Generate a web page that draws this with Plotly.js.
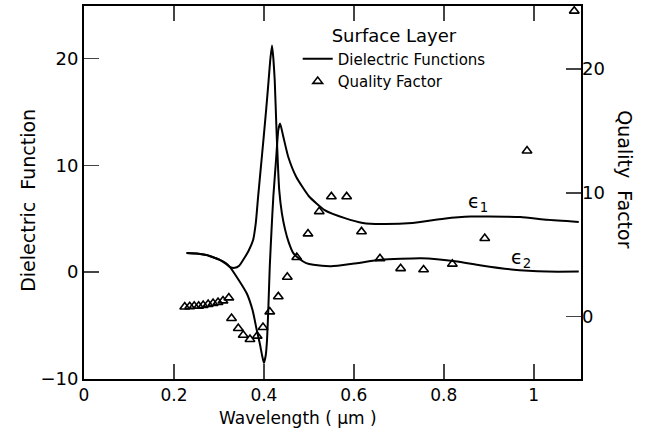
<!DOCTYPE html>
<html>
<head>
<meta charset="utf-8">
<script src="https://cdn.plot.ly/plotly-3.0.1.min.js"></script>
<style>html,body{margin:0;padding:0;background:#fff;}#chart{width:647px;height:435px;}</style>
</head>
<body>
<div id="chart"></div>
<script>
// Wavelength (um) and dielectric function values
const eps1X = [0.228,0.25,0.272,0.29,0.302,0.315,0.324,0.345,0.362,0.375,0.384,0.391,0.396,0.400,0.404,0.407,0.410,0.413,0.417,0.421,0.427,0.432,0.436,0.443,0.454,0.472,0.50,0.535,0.58,0.62,0.66,0.73,0.80,0.86,0.90,0.97,1.03,1.10];
const eps1Y = [1.8,1.75,1.6,1.35,1.15,0.85,0.5,-0.8,-2.0,-3.6,-5.4,-6.7,-7.8,-8.5,-7.8,-6.3,-3.2,0.5,4.0,7.1,10.5,13.3,13.9,12.7,10.8,8.9,7.1,5.8,5.05,4.6,4.5,4.6,5.0,5.2,5.2,5.15,4.9,4.7];
const eps2X = [0.228,0.25,0.272,0.29,0.302,0.315,0.324,0.335,0.345,0.354,0.366,0.376,0.382,0.387,0.393,0.399,0.405,0.41,0.414,0.418,0.421,0.424,0.428,0.431,0.434,0.44,0.447,0.455,0.465,0.48,0.494,0.51,0.55,0.60,0.66,0.75,0.83,0.88,0.95,1.03,1.10];
const eps2Y = [1.8,1.75,1.6,1.35,1.15,0.8,0.5,0.4,0.6,1.15,2.0,3.0,4.6,7.0,9.7,12.4,15.2,17.7,19.8,21.2,20.0,18.0,13.3,10.2,7.7,5.5,4.0,2.8,1.8,1.2,0.84,0.68,0.55,0.8,1.15,1.3,1.0,0.65,0.25,0.05,0.05];
// Quality factor (right axis)
const qX = [0.224,0.235,0.245,0.255,0.265,0.276,0.287,0.298,0.309,0.322,0.328,0.343,0.354,0.369,0.385,0.398,0.413,0.432,0.452,0.473,0.498,0.523,0.550,0.584,0.617,0.658,0.704,0.755,0.819,0.891,0.985,1.09];
const qY = [0.8,0.83,0.86,0.86,0.92,1.0,1.08,1.16,1.29,1.53,-0.13,-0.94,-1.48,-1.83,-1.56,-0.86,0.4,1.62,3.2,4.8,6.7,8.5,9.7,9.7,6.87,4.7,3.9,3.8,4.26,6.33,13.4,24.7];
// Axis ticks
const xTickVals = [0,0.2,0.4,0.6,0.8,1.0];
const xTickText = ['0','0.2','0.4','0.6','0.8','1'];
const yTickVals = [-10,0,10,20];
const y2TickVals = [0,10,20];

const FONT = 'DejaVu Sans, sans-serif';
const traces = [
  {x: eps1X, y: eps1Y, type:'scatter', mode:'lines', name:'Dielectric Functions',
   line:{color:'#000', width:2, shape:'spline', smoothing:0.5}, showlegend:true},
  {x: eps2X, y: eps2Y, type:'scatter', mode:'lines', name:'ε2',
   line:{color:'#000', width:2, shape:'spline', smoothing:0.5}, showlegend:false},
  {x: qX, y: qY, type:'scatter', mode:'markers', name:'Quality Factor', yaxis:'y2',
   marker:{symbol:'triangle-up-open', size:8.5, color:'#000', line:{width:1.6, color:'#000'}}, showlegend:true}
];
const layout = {
  width:647, height:435,
  margin:{l:84, r:66, t:6, b:56},
  paper_bgcolor:'#fff', plot_bgcolor:'#fff',
  font:{family:FONT, color:'#000', size:16},
  xaxis:{range:[0,1.105], tickvals:xTickVals, ticktext:xTickText, ticks:'inside', ticklen:15, tickwidth:1.5,
         showline:true, linewidth:2, linecolor:'#000', mirror:'ticks', showgrid:false, zeroline:false,
         tickfont:{size:17, color:'#000'}},
  yaxis:{range:[-10,24.9], tickvals:yTickVals, ticks:'inside', ticklen:15, tickwidth:1.5,
         showline:true, linewidth:2, linecolor:'#000', mirror:true, showgrid:false, zeroline:false,
         tickfont:{size:18, color:'#000'}},
  yaxis2:{range:[-5.03,25.1], tickvals:y2TickVals, overlaying:'y', side:'right', ticks:'inside', ticklen:15, tickwidth:1.5,
          showline:false, showgrid:false, zeroline:false, tickfont:{size:18, color:'#000'}},
  legend:{x:0.43, y:0.965, xanchor:'left', yanchor:'top', bgcolor:'rgba(0,0,0,0)',
          font:{size:15, color:'#000'}, itemwidth:30, tracegroupgap:0,
          title:{text:'Surface Layer', side:'top center', font:{size:18, color:'#000'}}},
  annotations:[
    {text:'Dielectric  Function', xref:'paper', yref:'paper', x:-0.113, y:0.48, xanchor:'center', yanchor:'middle', textangle:-90, showarrow:false, font:{size:19, color:'#000'}},
    {text:'Quality  Factor', xref:'paper', yref:'paper', x:1.088, y:0.536, xanchor:'center', yanchor:'middle', textangle:90, showarrow:false, font:{size:19, color:'#000'}},
    {text:'Wavelength ( μm )', xref:'paper', yref:'paper', x:0.4306, y:-0.105, xanchor:'center', yanchor:'middle', showarrow:false, font:{size:17, color:'#000'}},
    {text:'ϵ<sub>1</sub>', xref:'x', yref:'y', x:0.876, y:6.5, xanchor:'center', yanchor:'middle', showarrow:false, font:{size:19, color:'#000'}},
    {text:'ϵ<sub>2</sub>', xref:'x', yref:'y', x:0.971, y:1.25, xanchor:'center', yanchor:'middle', showarrow:false, font:{size:19, color:'#000'}}
  ]
};
Plotly.newPlot('chart', traces, layout, {displayModeBar:false, staticPlot:true});
</script>
</body>
</html>
